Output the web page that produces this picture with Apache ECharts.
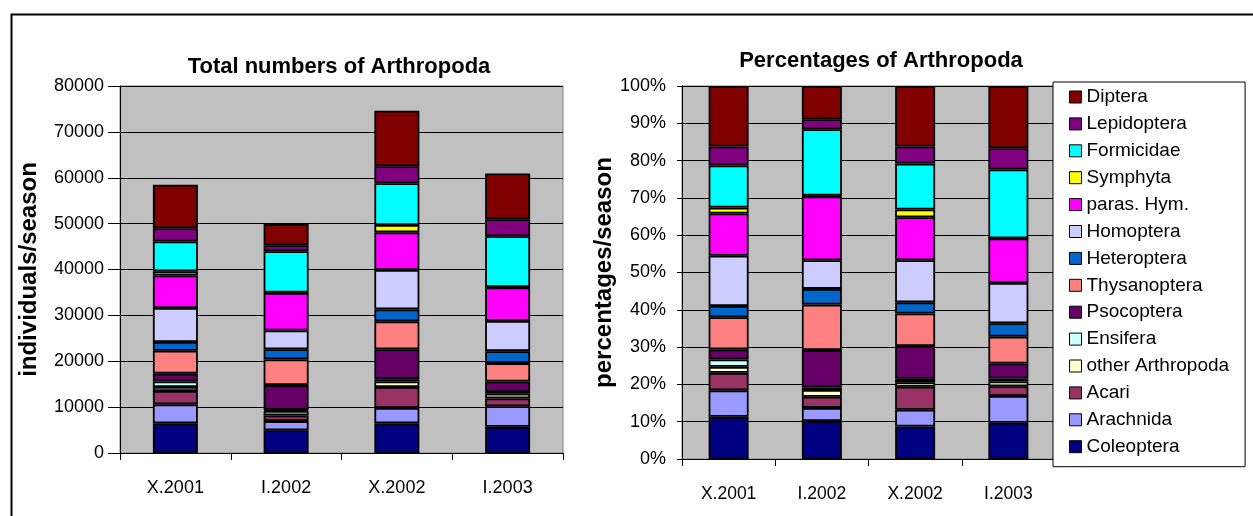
<!DOCTYPE html>
<html><head><meta charset="utf-8">
<script src="https://cdn.jsdelivr.net/npm/echarts@6/dist/echarts.min.js"></script>
<style>html,body{margin:0;padding:0;background:#fff}#c{width:1253px;height:516px}</style>
</head><body><div id="c"></div>
<script>
// ---- data ----
const categories = ['X.2001', 'I.2002', 'X.2002', 'I.2003'];
const seriesNames = ['Coleoptera', 'Arachnida', 'Acari', 'other Arthropoda', 'Ensifera', 'Psocoptera',
  'Thysanoptera', 'Heteroptera', 'Homoptera', 'paras. Hym.', 'Symphyta', 'Formicidae', 'Lepidoptera', 'Diptera'];
const seriesColors = ['#000080', '#9999FF', '#993366', '#FFFFCC', '#CCFFFF', '#660066',
  '#FF8080', '#0066CC', '#CCCCFF', '#FF00FF', '#FFFF00', '#00FFFF', '#800080', '#800000'];
const countTicks = [0, 10000, 20000, 30000, 40000, 50000, 60000, 70000, 80000];
const percentTicks = [0, 10, 20, 30, 40, 50, 60, 70, 80, 90, 100];

// individuals / season (per group, per season)
const coleoptera   = [6500, 4950, 6500, 5700];
const arachnida    = [4100, 2000, 3300, 4500];
const acari        = [2900, 1250, 4600, 1700];
const otherArthro  = [900, 950, 1200, 1000];
const ensifera     = [1200, 250, 500, 400];
const psocoptera   = [1700, 5400, 6500, 2300];
const thysanoptera = [5000, 5600, 6100, 4000];
const heteroptera  = [1900, 2200, 2600, 2600];
const homoptera    = [7400, 4100, 8600, 6600];
const parasHym     = [7100, 8200, 8200, 7300];
const symphyta     = [900, 100, 1600, 100];
const formicidae   = [6500, 9000, 9100, 11050];
const lepidoptera  = [2900, 1300, 3700, 3700];
const diptera      = [9500, 4600, 12100, 10000];

// percentages / season
const coleopteraPct   = [11.3, 10.2, 8.7, 9.7];
const arachnidaPct    = [7.1, 3.5, 4.5, 7.2];
const acariPct        = [4.7, 3.0, 6.2, 2.6];
const otherArthroPct  = [1.6, 1.8, 1.2, 1.3];
const ensiferaPct     = [2.0, 0.7, 0.9, 0.8];
const psocopteraPct   = [2.7, 10.0, 8.8, 4.0];
const thysanopteraPct = [8.6, 12.2, 8.7, 7.2];
const heteropteraPct  = [3.0, 4.2, 3.0, 3.6];
const homopteraPct    = [13.5, 7.7, 11.3, 10.8];
const parasHymPct     = [11.3, 17.1, 11.5, 11.9];
const symphytaPct     = [1.6, 0.2, 2.1, 0.1];
const formicidaePct   = [11.3, 17.8, 12.3, 18.4];
const lepidopteraPct  = [5.1, 2.7, 4.6, 5.7];
const dipteraPct      = [16.2, 8.9, 16.2, 16.7];

const countData = [coleoptera, arachnida, acari, otherArthro, ensifera, psocoptera, thysanoptera,
  heteroptera, homoptera, parasHym, symphyta, formicidae, lepidoptera, diptera];
const pctData = [coleopteraPct, arachnidaPct, acariPct, otherArthroPct, ensiferaPct, psocopteraPct,
  thysanopteraPct, heteropteraPct, homopteraPct, parasHymPct, symphytaPct, formicidaePct,
  lepidopteraPct, dipteraPct];

// ---- chart ----
const FONT = '"Liberation Sans", Arial, sans-serif';
const chart = echarts.init(document.getElementById('c'), null, { renderer: 'canvas' });

function xAxisCfg(gridIndex, margin, fontSize) {
  return {
    type: 'category', gridIndex, data: categories,
    axisLine: { lineStyle: { color: '#000', width: 1 } },
    axisTick: { show: true, alignWithLabel: false, length: 7, lineStyle: { color: '#000' } },
    axisLabel: { color: '#000', fontSize, fontFamily: FONT, margin },
    splitLine: { show: false }
  };
}

const series = [];
seriesNames.forEach((name, i) => {
  series.push({
    name, type: 'bar', stack: 'counts', xAxisIndex: 0, yAxisIndex: 0,
    barWidth: 45, data: countData[i],
    itemStyle: { color: seriesColors[i], borderColor: '#000', borderWidth: 1.8 },
    emphasis: { disabled: true }
  });
});
seriesNames.forEach((name, i) => {
  series.push({
    name, type: 'bar', stack: 'pct', xAxisIndex: 1, yAxisIndex: 1,
    barWidth: 40, data: pctData[i],
    itemStyle: { color: seriesColors[i], borderColor: '#000', borderWidth: 1.8 },
    emphasis: { disabled: true }
  });
});

chart.setOption({
  animation: false,
  backgroundColor: '#fff',
  textStyle: { fontFamily: FONT },
  title: [
    { text: 'Total numbers of Arthropoda', left: 334, top: 51, textAlign: 'center',
      textStyle: { fontSize: 22, fontWeight: 'bold', color: '#000', fontFamily: FONT } },
    { text: 'Percentages of Arthropoda', left: 876, top: 45, textAlign: 'center',
      textStyle: { fontSize: 22, fontWeight: 'bold', color: '#000', fontFamily: FONT } }
  ],
  grid: [
    { left: 120, top: 86, width: 443, height: 367, show: true, backgroundColor: '#C0C0C0',
      borderColor: '#808080', borderWidth: 1, containLabel: false },
    { left: 682, top: 86, width: 373, height: 373, show: true, backgroundColor: '#C0C0C0',
      borderColor: '#808080', borderWidth: 1, containLabel: false }
  ],
  xAxis: [xAxisCfg(0, 26, 18), xAxisCfg(1, 26, 17.5)],
  yAxis: [
    { type: 'value', gridIndex: 0, min: countTicks[0], max: countTicks[countTicks.length - 1],
      interval: countTicks[1] - countTicks[0],
      name: 'individuals/season', nameLocation: 'middle', nameRotate: 90, nameGap: 79,
      nameTextStyle: { fontSize: 24, fontWeight: 'bold', color: '#000', fontFamily: FONT },
      axisLine: { show: true, lineStyle: { color: '#000' } },
      axisTick: { show: true, length: 12, lineStyle: { color: '#000' } },
      axisLabel: { color: '#000', fontSize: 18, fontFamily: FONT, margin: 16,
        formatter: v => String(v) },
      splitLine: { show: true, lineStyle: { color: '#000', width: 1 } } },
    { type: 'value', gridIndex: 1, min: percentTicks[0], max: percentTicks[percentTicks.length - 1],
      interval: percentTicks[1] - percentTicks[0],
      name: 'percentages/season', nameLocation: 'middle', nameRotate: 90, nameGap: 65,
      nameTextStyle: { fontSize: 24, fontWeight: 'bold', color: '#000', fontFamily: FONT },
      axisLine: { show: true, lineStyle: { color: '#000' } },
      axisTick: { show: true, length: 5, lineStyle: { color: '#000' } },
      axisLabel: { color: '#000', fontSize: 18, fontFamily: FONT, margin: 16, formatter: '{value}%' },
      splitLine: { show: true, lineStyle: { color: '#000', width: 1 } } }
  ],
  legend: {
    orient: 'vertical', left: 1053, top: 82,
    data: seriesNames.slice().reverse(),
    backgroundColor: '#fff', borderColor: '#000', borderWidth: 1,
    padding: [5, 16, 10, 16],
    itemWidth: 12, itemHeight: 12, itemGap: 6.9,
    icon: 'rect',
    itemStyle: { borderColor: '#000', borderWidth: 1 },
    textStyle: { fontSize: 19, lineHeight: 20, color: '#000', fontFamily: FONT },
    selectedMode: false
  },
  graphic: [
    { type: 'rect', left: 9, top: 12, z: -10, silent: true,
      shape: { x: 0, y: 0, width: 1300, height: 600 },
      style: { fill: 'none', stroke: '#000', lineWidth: 2 } }
  ],
  series
});
</script>
</body></html>
